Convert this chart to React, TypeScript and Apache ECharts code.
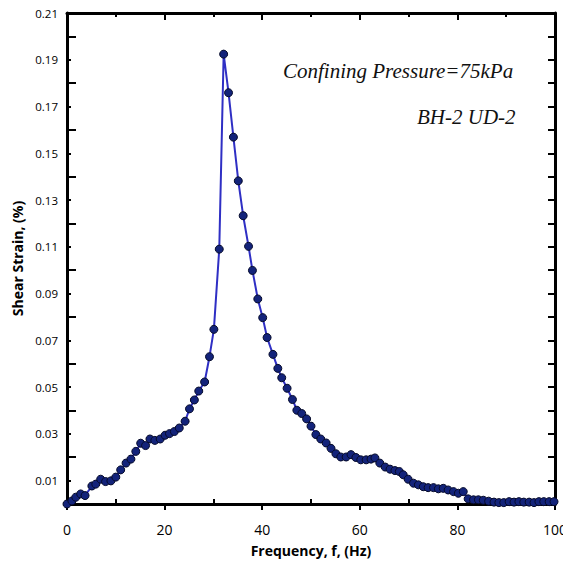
import React, { useEffect, useRef } from "react";
import * as echarts from "echarts";

const frequency = [
  0, 1.0, 1.8, 2.8, 3.7, 5.1, 5.9, 6.9, 7.9, 9.0, 10.0, 11.0, 12.1, 13.1, 14.1, 15.1, 16.1, 17.0, 18.0, 19.1,
  20.1, 21.0, 22.0, 23.0, 24.2, 25.1, 26.1, 27.0, 28.2, 29.2, 30.1, 31.2, 32.1, 33.1, 34.1, 35.1, 36.1, 37.2,
  38.0, 39.1, 40.1, 41.0, 42.2, 43.2, 44.0, 45.1, 46.2, 47.1, 48.1, 49.1, 50.0, 51.0, 52.0, 53.1, 54.1, 55.1,
  56.1, 57.2, 58.2, 59.2, 60.2, 61.3, 62.3, 63.1, 64.1, 65.2, 66.2, 67.2, 68.1, 68.9, 69.9, 71.0, 72.0, 73.0,
  74.0, 75.1, 76.1, 77.1, 78.1, 79.2, 80.2, 81.2, 82.2, 83.3, 84.3, 85.3, 86.4, 87.5, 88.5, 89.5, 90.6, 91.6,
  92.6, 93.6, 94.7, 95.7, 96.7, 97.7, 98.8, 99.8,
];

const shearStrain = [
  0.0, 0.0013, 0.0029, 0.0043, 0.0036, 0.0077, 0.0085, 0.0106, 0.0096, 0.0099, 0.0115, 0.0146, 0.0175, 0.0192,
  0.0225, 0.026, 0.025, 0.0278, 0.0272, 0.0278, 0.0294, 0.0301, 0.031, 0.0325, 0.0354, 0.0407, 0.0445, 0.0483,
  0.0522, 0.063, 0.0747, 0.109, 0.1924, 0.1759, 0.1569, 0.1382, 0.1233, 0.1102, 0.0999, 0.0877, 0.0797, 0.0712,
  0.064, 0.058, 0.054, 0.0495, 0.0447, 0.0401, 0.0387, 0.0364, 0.0333, 0.0297, 0.0278, 0.0261, 0.0238, 0.0215,
  0.0201, 0.0201, 0.0211, 0.0199, 0.0189, 0.0189, 0.0192, 0.0197, 0.0175, 0.0158, 0.0149, 0.0143, 0.0139,
  0.0125, 0.0106, 0.0089, 0.0082, 0.0074, 0.007, 0.007, 0.0065, 0.0067, 0.006, 0.0053, 0.0046, 0.0053, 0.0022,
  0.0018, 0.0018, 0.0016, 0.0012, 0.0008, 0.0006, 0.0006, 0.001, 0.0008, 0.001, 0.0008, 0.0008, 0.0006, 0.001,
  0.001, 0.001, 0.001,
];

const xLabelTicks = [0, 20, 40, 60, 80, 100];
const xMinorTicks = [10, 30, 50, 70, 90];
const yLabelTicks = [0.01, 0.03, 0.05, 0.07, 0.09, 0.11, 0.13, 0.15, 0.17, 0.19, 0.21];
const yEvenTicks = [0.02, 0.04, 0.06, 0.08, 0.1, 0.12, 0.14, 0.16, 0.18, 0.2];

const annotation1 = "Confining Pressure=75kPa";
const annotation2 = "BH-2 UD-2";

export default function App() {
  const ref = useRef<HTMLDivElement>(null);
  useEffect(() => {
    if (!ref.current) return;
    const chart = echarts.init(ref.current, null, { renderer: "svg" });
    const axisLine = { show: true, onZero: false, lineStyle: { color: "#000", width: 3 } };
    const sans = "'Open Sans', 'Noto Sans', sans-serif";
    chart.setOption({
      animation: false,
      backgroundColor: "#fff",
      grid: { left: 67, right: 8, top: 13, bottom: 60, containLabel: false, outerBoundsMode: "none" },
      xAxis: [
        {
          type: "value",
          position: "bottom",
          min: 0,
          max: 100,
          axisLine,
          splitLine: { show: false },
          axisTick: { show: true, customValues: xLabelTicks, inside: false, length: 6, lineStyle: { width: 2, color: "#000" } },
          axisLabel: { customValues: xLabelTicks, fontSize: 14, color: "#000", margin: 18, fontFamily: sans },
          name: "Frequency, f, (Hz)",
          nameLocation: "middle",
          nameGap: 39,
          nameTextStyle: { fontSize: 14, fontWeight: "bold", color: "#000", fontFamily: sans },
        },
        {
          type: "value",
          position: "bottom",
          min: 0,
          max: 100,
          axisLine: { show: false, onZero: false },
          splitLine: { show: false },
          axisTick: { show: true, customValues: xMinorTicks, inside: true, length: 5, lineStyle: { width: 2, color: "#000" } },
          axisLabel: { show: false },
        },
        {
          type: "value",
          position: "top",
          min: 0,
          max: 100,
          interval: 20,
          axisLine,
          splitLine: { show: false },
          axisTick: { show: true, inside: true, length: 7, lineStyle: { width: 2, color: "#000" } },
          minorTick: { show: true, splitNumber: 2, length: 4, lineStyle: { width: 2, color: "#000" } },
          axisLabel: { show: false },
        },
      ],
      yAxis: [
        {
          type: "value",
          position: "left",
          min: 0,
          max: 0.21,
          axisLine,
          splitLine: { show: false },
          axisTick: { show: true, customValues: yLabelTicks, inside: true, length: 4, lineStyle: { width: 2, color: "#000" } },
          axisLabel: {
            customValues: yLabelTicks,
            fontSize: 11.5,
            color: "#000",
            margin: 9,
            fontFamily: sans,
            formatter: (v: number) => v.toFixed(2),
          },
          name: "Shear Strain, (%)",
          nameLocation: "middle",
          nameGap: 40,
          nameTextStyle: { fontSize: 14, fontWeight: "bold", color: "#000", fontFamily: sans },
        },
        {
          type: "value",
          position: "left",
          min: 0,
          max: 0.21,
          axisLine: { show: false, onZero: false },
          splitLine: { show: false },
          axisTick: { show: true, customValues: yEvenTicks, inside: true, length: 9, lineStyle: { width: 2, color: "#000" } },
          axisLabel: { show: false },
        },
        {
          type: "value",
          position: "right",
          min: 0,
          max: 0.21,
          interval: 0.01,
          axisLine,
          splitLine: { show: false },
          axisTick: { show: true, inside: true, length: 7, lineStyle: { width: 2, color: "#000" } },
          axisLabel: { show: false },
        },
      ],
      series: [
        {
          type: "line",
          xAxisIndex: 0,
          yAxisIndex: 0,
          data: frequency.map((f, i) => [f, shearStrain[i]]),
          symbol: "circle",
          symbolSize: 8,
          showSymbol: true,
          lineStyle: { color: "#2f2fc4", width: 2 },
          itemStyle: { color: "#13237a", borderColor: "#050a2a", borderWidth: 1 },
          z: 3,
        },
      ],
      graphic: [
        {
          type: "text",
          left: 283,
          top: 60,
          style: {
            text: annotation1,
            font: "italic 21px 'Liberation Serif', 'Times New Roman', serif",
            fill: "#111",
          },
        },
        {
          type: "text",
          left: 417,
          top: 106,
          style: {
            text: annotation2,
            font: "italic 21px 'Liberation Serif', 'Times New Roman', serif",
            fill: "#111",
          },
        },
      ],
    });
    return () => chart.dispose();
  }, []);
  return (
    <div
      ref={ref}
      style={{ position: "fixed", left: 0, top: 0, width: 563, height: 564, background: "#fff" }}
    />
  );
}
